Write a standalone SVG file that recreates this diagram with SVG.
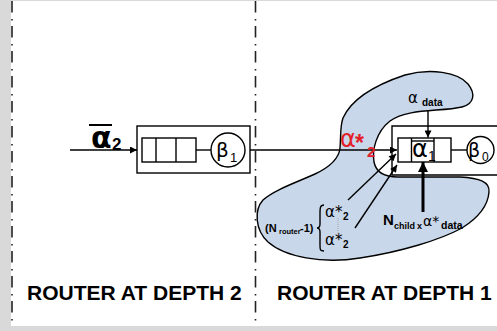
<svg xmlns="http://www.w3.org/2000/svg" width="497" height="331" viewBox="0 0 497 331">
<style>
.ln{stroke:#000;stroke-width:1.4;fill:none}
.box{stroke:#000;stroke-width:1.4;fill:#fff}
.dd{stroke:#222;stroke-width:1.6;fill:none;stroke-dasharray:11.5 6.5 1.5 5.5}
text{font-family:"Liberation Sans",Arial,sans-serif;fill:#000}
.g{font-family:"DejaVu Sans","Liberation Sans",sans-serif}
.b{font-weight:bold}
.red{fill:#e3202a}
</style>
<defs>
<marker id="ah" viewBox="0 0 10 10" refX="10" refY="5" markerWidth="8" markerHeight="7" markerUnits="userSpaceOnUse" orient="auto"><path d="M0,0 L10,5 L0,10 z" fill="#000"/></marker>
<marker id="ahb" viewBox="0 0 10 10" refX="10" refY="5" markerWidth="11" markerHeight="10" markerUnits="userSpaceOnUse" orient="auto"><path d="M0,0 L10,5 L0,10 z" fill="#000"/></marker>
</defs>
<rect x="0" y="0" width="497" height="331" fill="#d9d9d9"/>
<rect x="11" y="1" width="486" height="325" fill="#fff"/>
<line class="dd" x1="12" y1="1" x2="12" y2="326"/>
<line class="dd" x1="255.5" y1="1" x2="255.5" y2="326"/>

<g id="cloud">
<path d="M343,118 C352,98 378,84 405,75 C430,68 458,72 468,84 C476,94 474,104 462,107 C440,112 408,108 390,121 C376,132 372,150 374,162 C376,172 385,177 398,177 L460,177 C480,178 490,182 489,192 C488,205 478,218 462,228 C440,240 400,252 360,258 C322,264 285,257 268,242 C255,230 254,210 263,200 C274,190 295,183 315,174 C332,166 339,158 340,148 C341,135 340,126 343,118 Z" fill="#c9d7ea" stroke="#000" stroke-width="1.4"/>
</g>

<g id="router2">
<rect class="box" x="137" y="126" width="113" height="47"/>
<rect class="ln" x="142" y="138" width="54" height="24"/>
<line class="ln" x1="156" y1="138" x2="156" y2="162"/>
<line class="ln" x1="176" y1="138" x2="176" y2="162"/>
<line class="ln" x1="196" y1="150" x2="211" y2="150"/>
<circle class="ln" cx="228" cy="150" r="17"/>
<text x="216" y="157" font-size="20" class="g">β</text>
<text x="230" y="162" font-size="13">1</text>
</g>

<g id="router1">
<path class="ln" d="M497,126 L392,126 L392,175 L497,175"/>
<rect class="box" x="398" y="138" width="53" height="24"/>
<line class="ln" x1="411.5" y1="138" x2="411.5" y2="162"/>
<line class="ln" x1="434" y1="138" x2="434" y2="162"/>
<line class="ln" x1="412" y1="141" x2="434" y2="141"/>
<text x="412" y="157" font-size="24" class="g">α</text>
<text x="428" y="161" font-size="14">1</text>
<line class="ln" x1="451" y1="150" x2="467" y2="150"/>
<circle class="box" cx="480.5" cy="150" r="13.5"/>
<text x="468" y="157" font-size="19" class="g">β</text>
<text x="482" y="161" font-size="12">0</text>
</g>

<g id="connectors">
<line class="ln" x1="70" y1="150" x2="137" y2="150" marker-end="url(#ah)"/>
<line class="ln" x1="250" y1="150" x2="397" y2="150" marker-end="url(#ah)"/>
<line class="ln" x1="428" y1="110" x2="428" y2="137.5" marker-end="url(#ah)"/>
<line class="ln" x1="348" y1="200" x2="396" y2="154" marker-end="url(#ah)"/>
<line class="ln" x1="355" y1="228" x2="397" y2="165" marker-end="url(#ah)"/>
<line x1="423" y1="212" x2="423" y2="162" stroke="#000" stroke-width="3" marker-end="url(#ahb)"/>
<line x1="338" y1="218" x2="338" y2="234" stroke="#999" stroke-width="0.8" stroke-dasharray="1 1"/>
</g>

<g id="labels">
<text x="91" y="148" font-size="30" class="g b">α</text>
<text x="112" y="150" font-size="17" class="b">2</text>
<line x1="89" y1="125" x2="112" y2="125" stroke="#000" stroke-width="2"/>

<text x="340" y="147" font-size="24" class="g red">α</text>
<text x="355" y="151" font-size="23" class="red b">*</text>
<text x="367" y="157" font-size="15" class="red b">2</text>

<text x="408" y="103" font-size="15" class="g">α</text>
<text x="422" y="106" font-size="10" class="b">data</text>

<text x="383" y="225" font-size="15" class="b">N</text>
<text x="394" y="229" font-size="9" class="b">child</text>
<text x="417" y="229" font-size="9" class="b">x</text>
<text x="423" y="226" font-size="14" class="g">α*</text>
<text x="441" y="229" font-size="10.5" class="b">data</text>

<text x="265" y="232" font-size="11" class="b">(N</text>
<text x="279" y="234" font-size="7.5" class="b">router</text>
<text x="300" y="232" font-size="11" class="b">-1)</text>
<path class="ln" stroke-width="1" d="M324,205 C320,205 320,208 320,214 L320,224 C320,227 319,228 317,228 C319,228 320,229 320,232 L320,245 C320,250 320,251 324,251"/>
<text x="325" y="217" font-size="15" class="g">α*</text>
<text x="343" y="220" font-size="10" class="b">2</text>
<text x="325" y="245" font-size="15" class="g">α*</text>
<text x="343" y="248" font-size="10" class="b">2</text>

<text x="27" y="300" font-size="21" class="b">ROUTER AT DEPTH 2</text>
<text x="277" y="300" font-size="21" class="b">ROUTER AT DEPTH 1</text>
</g>
</svg>
